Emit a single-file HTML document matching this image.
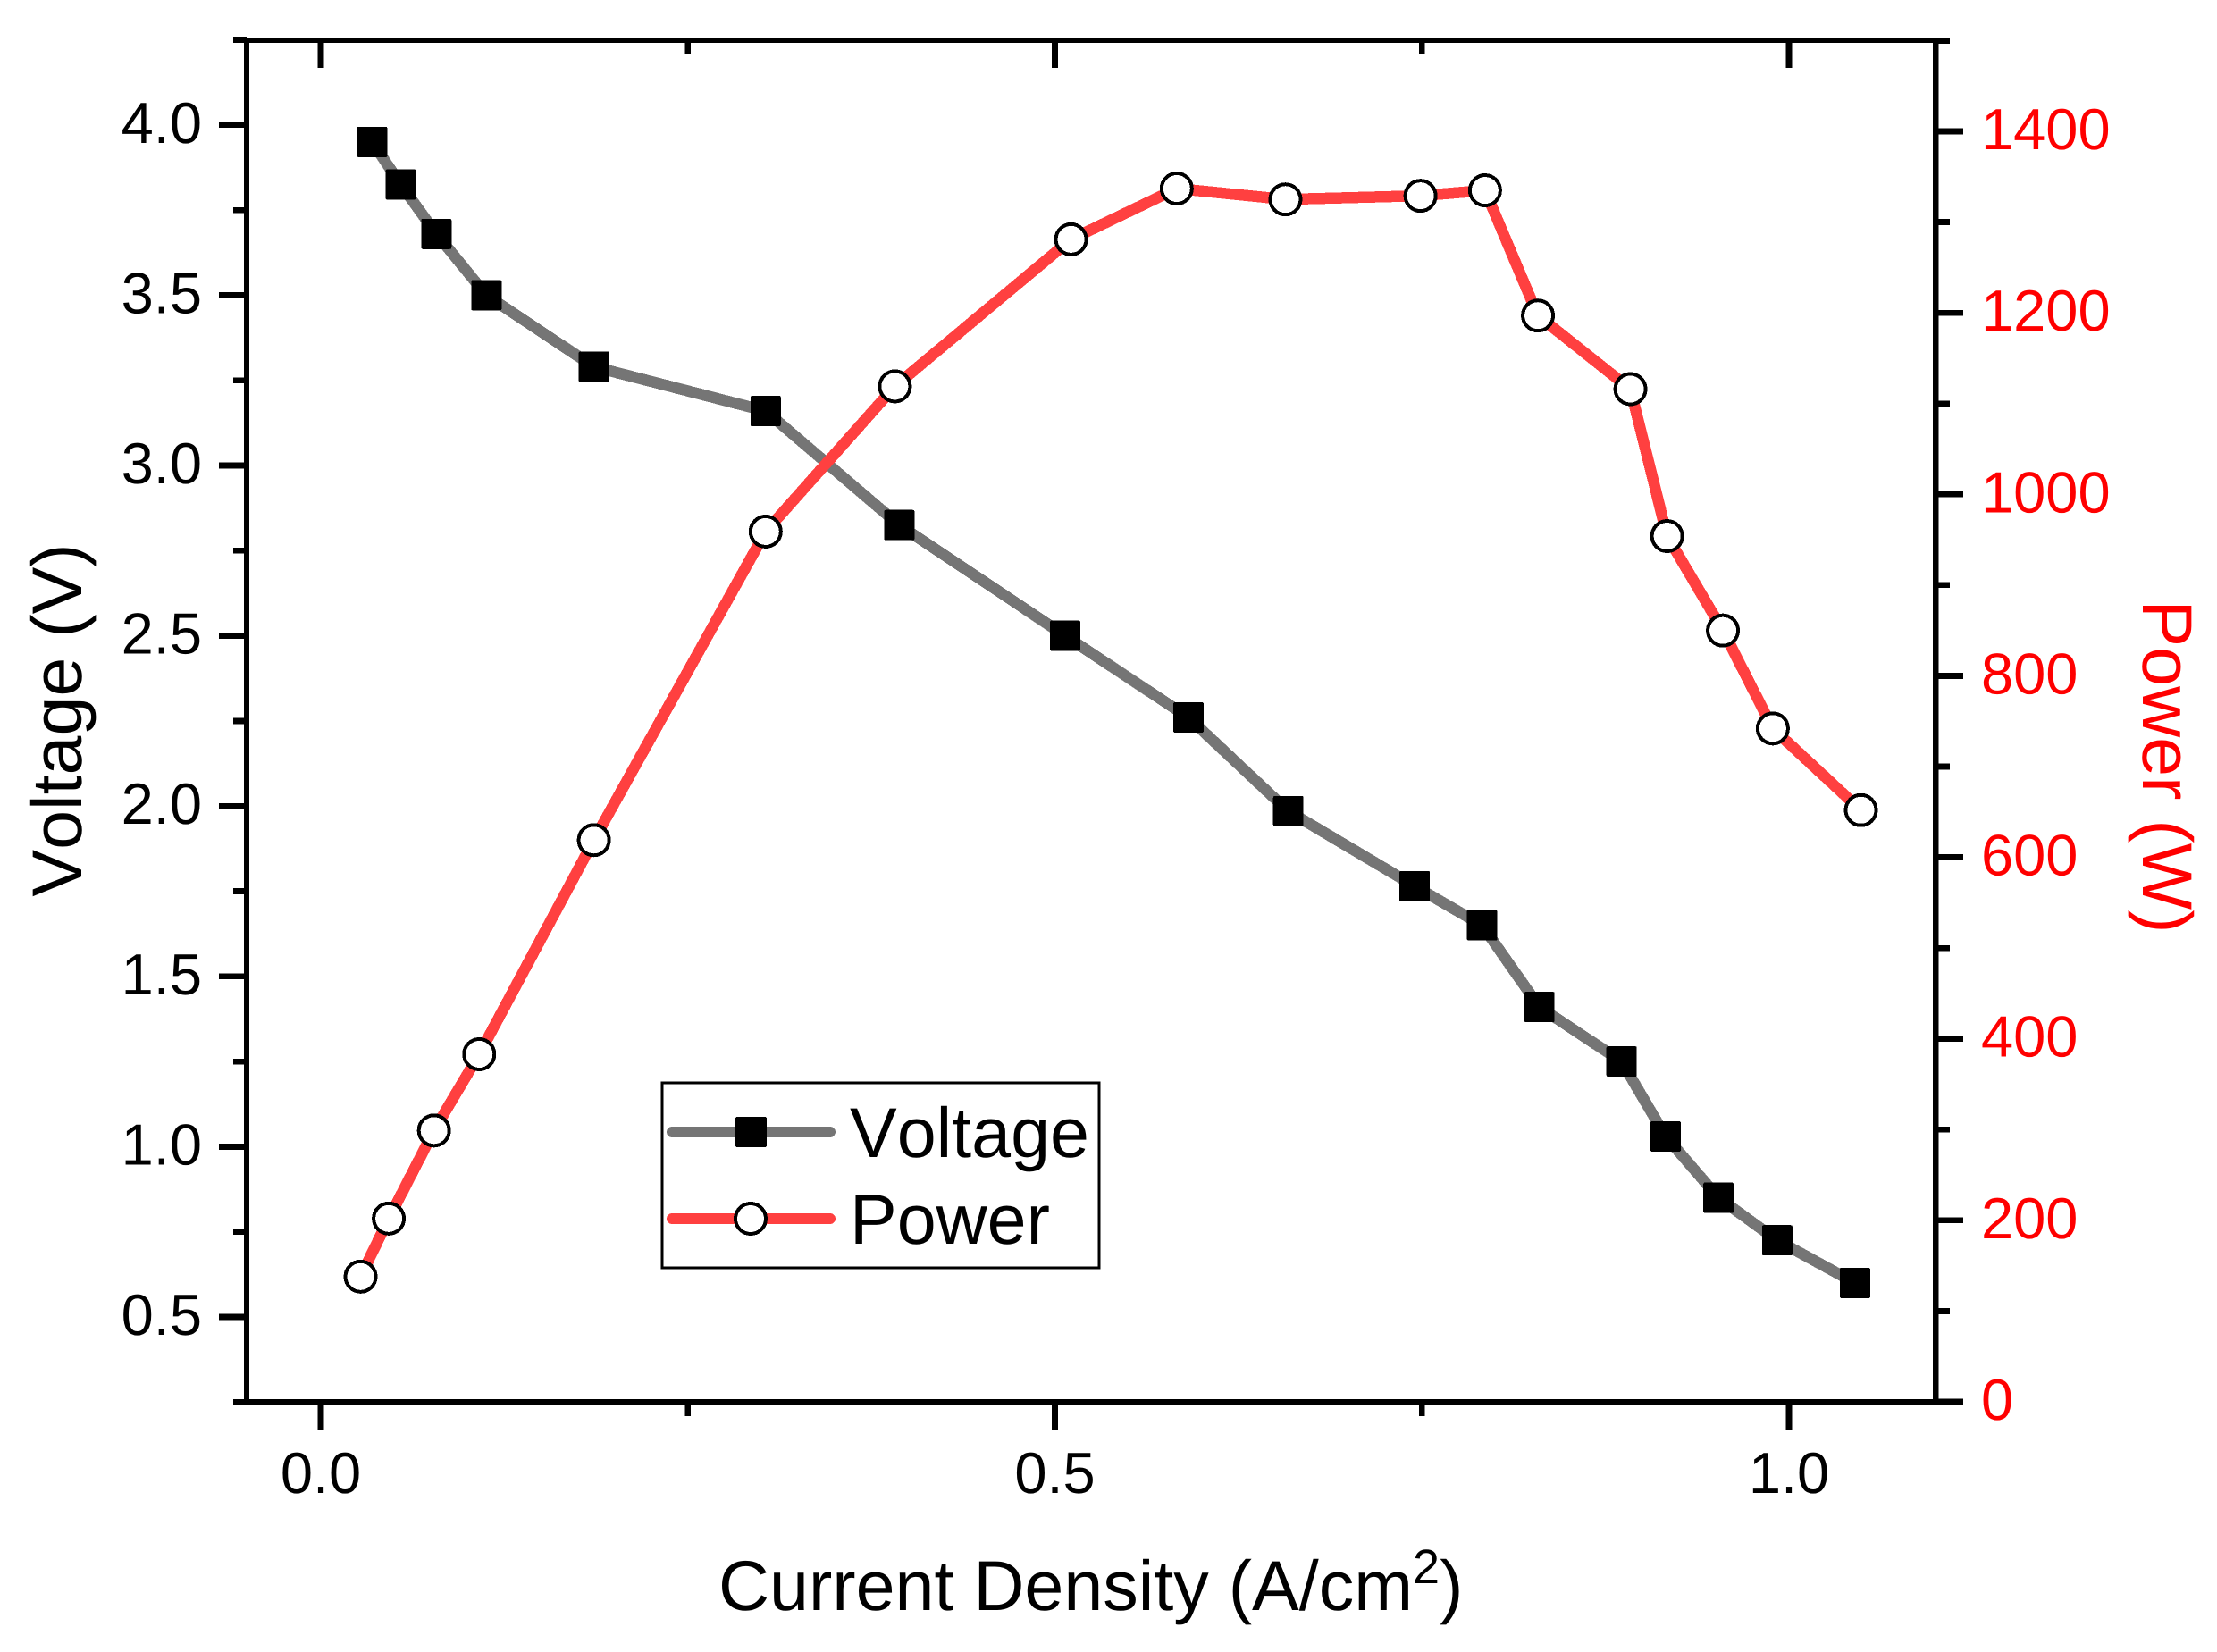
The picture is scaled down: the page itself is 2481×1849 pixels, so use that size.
<!DOCTYPE html>
<html lang="en">
<head>
<meta charset="utf-8">
<title>Voltage and Power vs Current Density</title>
<style>
html,body{margin:0;padding:0;background:#fff;}
svg{display:block;font-family:"Liberation Sans",Arial,sans-serif;}
svg text{font-kerning:none;text-rendering:geometricPrecision;}
svg line,svg rect,svg circle,svg polyline{shape-rendering:crispEdges;}
</style>
</head>
<body>
<svg id="chart" xmlns="http://www.w3.org/2000/svg" width="2481" height="1849" viewBox="0 0 2481 1849">
  <rect x="0" y="0" width="2481" height="1849" fill="#ffffff"/>
  <g id="ticks"></g>
  <g id="labels"></g>
  <line x1="276" y1="42" x2="276" y2="1572" stroke="#000" stroke-width="6"/>
  <line x1="2166" y1="42" x2="2166" y2="1572" stroke="#000" stroke-width="6.5"/>
  <line x1="276" y1="45" x2="2166" y2="45" stroke="#000" stroke-width="6"/>
  <line x1="276" y1="1569.3" x2="2166" y2="1569.3" stroke="#000" stroke-width="6.7"/>
  <g id="series"></g>
  <text transform="translate(91,806) rotate(-90)" text-anchor="middle" font-size="79" fill="#000">Voltage (V)</text>
  <text transform="translate(2398,858) rotate(90)" text-anchor="middle" font-size="79" fill="#ff0000">Power (W)</text>
  <text x="804" y="1802" font-size="79" fill="#000">Current Density (A/cm<tspan font-size="54" dy="-30">2</tspan><tspan dy="30">)</tspan></text>
  <g>
    <rect x="741" y="1212" width="489" height="207" fill="#ffffff" stroke="#000" stroke-width="3"/>
    <line x1="752" y1="1267" x2="929" y2="1267" stroke="#757575" stroke-width="12" stroke-linecap="round"/>
    <rect x="823" y="1250" width="35" height="34" rx="2" fill="#000"/>
    <text x="951" y="1295" font-size="79" fill="#000">Voltage</text>
    <line x1="752" y1="1364" x2="929" y2="1364" stroke="#ff4040" stroke-width="12" stroke-linecap="round"/>
    <circle cx="840" cy="1364" r="17" fill="#ffffff" stroke="#000" stroke-width="4"/>
    <text x="951" y="1392" font-size="79" fill="#000">Power</text>
  </g>
</svg>
<script>
const voltageCurrent = [0.035,0.0545,0.0787,0.1128,0.186,0.303,0.394,0.507,0.591,0.659,0.745,0.791,0.83,0.886,0.916,0.952,0.992,1.045];
const voltageValues = [3.95,3.825,3.68,3.5,3.29,3.16,2.825,2.5,2.26,1.985,1.765,1.65,1.41,1.25,1.03,0.85,0.725,0.6];
const powerCurrent = [0.0271,0.0463,0.0771,0.1079,0.186,0.303,0.391,0.511,0.583,0.657,0.749,0.793,0.829,0.892,0.917,0.955,0.989,1.049];
const powerValues = [138,202,299,383,619,959,1119,1281,1337,1325,1329,1335,1197,1116,954,850,742,652];
const xMajorTicks = [0,0.5,1.0];
const xMinorTicks = [0.25,0.75];
const voltageMajorTicks = [0.5,1.0,1.5,2.0,2.5,3.0,3.5,4.0];
const voltageMinorTicks = [0.25,0.75,1.25,1.75,2.25,2.75,3.25,3.75,4.25];
const powerMajorTicks = [0,200,400,600,800,1000,1200,1400];
const powerMinorTicks = [100,300,500,700,900,1100,1300,1500];

const NS = 'http://www.w3.org/2000/svg';
const scaleX = function (v) { return 359 + v * 1643; };
const scaleV = function (v) { return 1474 - (v - 0.5) * 381.2; };
const scaleP = function (v) { return 1569 - v * 1.0157; };

function make(tag, attrs, parent) {
  const node = document.createElementNS(NS, tag);
  Object.keys(attrs).forEach(function (k) { node.setAttribute(k, attrs[k]); });
  parent.appendChild(node);
  return node;
}

const tickLayer = document.getElementById('ticks');
const labelLayer = document.getElementById('labels');
const seriesLayer = document.getElementById('series');
const tickStyle = { stroke: '#000', 'stroke-width': 6.7 };

function tick(x1, y1, x2, y2) {
  return make('line', Object.assign({ x1: x1, y1: y1, x2: x2, y2: y2 }, tickStyle), tickLayer);
}

xMajorTicks.forEach(function (v) {
  const bottom = tick(scaleX(v), 1569, scaleX(v), 1600);
  
  
  const top = tick(scaleX(v), 45, scaleX(v), 76);
  
  
  const label = make('text', { x: scaleX(v), y: 1671, 'text-anchor': 'middle', 'font-size': 65, fill: '#000' }, labelLayer);
  label.textContent = v.toFixed(1);
  
  
});

xMinorTicks.forEach(function (v) {
  const bottom = tick(scaleX(v), 1569, scaleX(v), 1585);
  
  
  const top = tick(scaleX(v), 45, scaleX(v), 60);
  
  
});

voltageMajorTicks.forEach(function (v) {
  const mark = tick(245, scaleV(v), 276, scaleV(v));
  
  
  const label = make('text', { x: 226, y: scaleV(v) + 20, 'text-anchor': 'end', 'font-size': 65, fill: '#000' }, labelLayer);
  label.textContent = v.toFixed(1);
  
  
});

voltageMinorTicks.forEach(function (v) {
  const mark = tick(261, scaleV(v), 276, scaleV(v));
  
  
});

powerMajorTicks.forEach(function (v) {
  const mark = tick(2166, scaleP(v), 2197, scaleP(v));
  
  
  const label = make('text', { x: 2217, y: scaleP(v) + 20, 'font-size': 65, fill: '#ff0000' }, labelLayer);
  label.textContent = String(v);
  
  
});

powerMinorTicks.forEach(function (v) {
  const mark = tick(2166, scaleP(v), 2182, scaleP(v));
  
  
});

const voltagePoints = voltageCurrent.map(function (c, i) { return scaleX(c) + ',' + scaleV(voltageValues[i]); }).join(' ');
const voltageLine = make('polyline', { points: voltagePoints, fill: 'none', stroke: '#757575', 'stroke-width': 12.5, 'stroke-linejoin': 'round', 'stroke-linecap': 'round' }, seriesLayer);



const powerPoints = powerCurrent.map(function (c, i) { return scaleX(c) + ',' + scaleP(powerValues[i]); }).join(' ');
const powerLine = make('polyline', { points: powerPoints, fill: 'none', stroke: '#ff4040', 'stroke-width': 12.5, 'stroke-linejoin': 'round', 'stroke-linecap': 'round' }, seriesLayer);



voltageCurrent.forEach(function (c, i) {
  const square = make('rect', { x: scaleX(c) - 17, y: scaleV(voltageValues[i]) - 17, width: 34, height: 34, rx: 2, fill: '#000' }, seriesLayer);
  
  
});

powerCurrent.forEach(function (c, i) {
  const circle = make('circle', { cx: scaleX(c), cy: scaleP(powerValues[i]), r: 17, fill: '#ffffff', stroke: '#000', 'stroke-width': 4 }, seriesLayer);
  
  
});
</script>
</body>
</html>
